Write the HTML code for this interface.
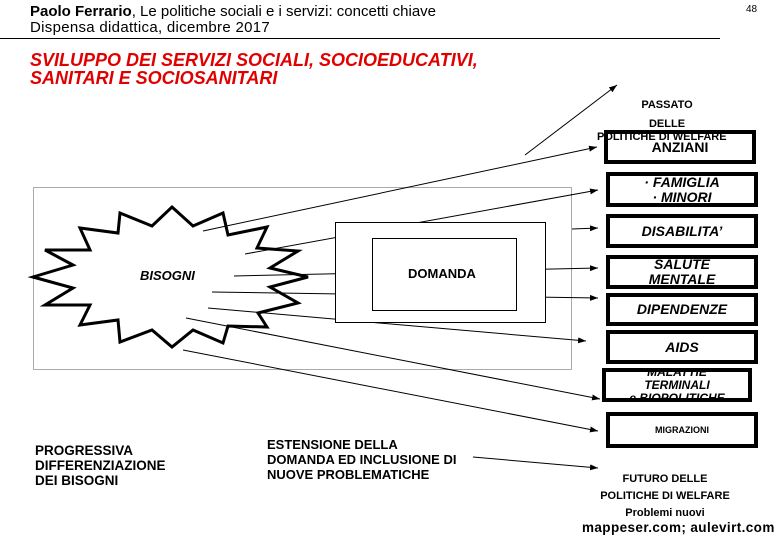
<!DOCTYPE html>
<html><head><meta charset="utf-8"><style>
body{margin:0;width:780px;height:540px;background:#fff;position:relative;overflow:hidden;font-family:"Liberation Sans",sans-serif}
.t{position:absolute;white-space:nowrap}
.b{font-weight:bold}
.box{position:absolute;border:4px solid #000;box-sizing:border-box;background:#fff;display:flex;flex-direction:column;align-items:center;justify-content:center;font-weight:bold;font-style:italic;font-size:14px;line-height:15px;text-align:center;overflow:hidden}
</style></head><body>
<div class="t" style="left:30px;top:3px;font-size:15px"><b>Paolo Ferrario</b>, Le politiche sociali e i servizi: concetti chiave</div>
<div class="t" style="left:30px;top:19px;font-size:15px;letter-spacing:0.3px">Dispensa didattica, dicembre 2017</div>
<div class="t" style="left:746px;top:4px;font-size:10px">48</div>
<div style="position:absolute;left:0;top:38px;width:720px;height:1px;background:#000"></div>
<div class="t b" style="left:30px;top:51px;font-size:18px;font-style:italic;color:#e00000;line-height:18px">SVILUPPO DEI SERVIZI SOCIALI, SOCIOEDUCATIVI,<br>SANITARI E SOCIOSANITARI</div>
<svg style="position:absolute;left:0;top:0" width="780" height="540">
<defs><marker id="a" markerWidth="8" markerHeight="6" refX="8" refY="3" orient="auto"><path d="M0,0L8,3L0,6z"/></marker></defs>
<rect x="33.5" y="187.5" width="538" height="182" fill="none" stroke="#555" stroke-dasharray="1,1"/>
<polygon fill="#fff" stroke="#000" stroke-width="3" points="172,207 193,226 223,213 228,235 267,227 257,248 298,251 270,268 308,277 270,287 298,303 258,313 267,327 228,326 223,343 193,330 172,347 152,330 120,342 118,320 80,325 90,305 45,305 73,288 33,277 73,265 45,250 90,250 80,228 118,233 120,213 152,226"/>
<g stroke="#000" stroke-width="1" marker-end="url(#a)">
<line x1="525" y1="155" x2="617" y2="85"/>
<line x1="203" y1="231" x2="597" y2="147"/>
<line x1="245" y1="254" x2="598" y2="190"/>
<line x1="572" y1="229" x2="598" y2="228"/>
<line x1="234" y1="276" x2="598" y2="268"/>
<line x1="212" y1="292" x2="598" y2="298"/>
<line x1="208" y1="308" x2="586" y2="341"/>
<line x1="186" y1="318" x2="600" y2="399"/>
<line x1="183" y1="350" x2="598" y2="431"/>
<line x1="473" y1="457" x2="598" y2="468"/>
</g>
<rect x="335.5" y="222.5" width="210" height="100" fill="#fff" stroke="#000"/>
<rect x="372.5" y="238.5" width="144" height="72" fill="#fff" stroke="#000"/>
</svg>
<div class="t b" style="left:140px;top:268px;font-size:13px;font-style:italic">BISOGNI</div>
<div class="t b" style="left:408px;top:266px;font-size:13px">DOMANDA</div>
<div class="box" style="left:604px;top:130px;width:152px;height:34px;font-style:normal">ANZIANI</div>
<div class="t b" style="left:637px;top:96px;font-size:11px;line-height:19px;text-align:center;width:60px">PASSATO<br>DELLE</div>
<div class="t b" style="left:597px;top:131px;font-size:11px">POLITICHE DI WELFARE</div>
<div class="box" style="left:606px;top:172px;width:152px;height:35px">· FAMIGLIA<br>· MINORI</div>
<div class="box" style="left:606px;top:214px;width:152px;height:34px">DISABILITA’</div>
<div class="box" style="left:606px;top:255px;width:152px;height:34px">SALUTE<br>MENTALE</div>
<div class="box" style="left:606px;top:293px;width:152px;height:33px">DIPENDENZE</div>
<div class="box" style="left:606px;top:330px;width:152px;height:34px">AIDS</div>
<div class="box" style="left:602px;top:368px;width:150px;height:34px;font-size:12px;line-height:13px">MALATTIE<br>TERMINALI<br>e BIOPOLITICHE</div>
<div class="box" style="left:606px;top:412px;width:152px;height:36px;font-style:normal;font-size:9px">MIGRAZIONI</div>
<div class="t b" style="left:35px;top:443px;font-size:13.5px;line-height:15px">PROGRESSIVA<br>DIFFERENZIAZIONE<br>DEI BISOGNI</div>
<div class="t b" style="left:267px;top:437px;font-size:13px;line-height:15px">ESTENSIONE DELLA<br>DOMANDA ED INCLUSIONE DI<br>NUOVE PROBLEMATICHE</div>
<div class="t b" style="left:590px;top:471px;width:150px;text-align:center;font-size:11px;line-height:17px">FUTURO DELLE<br>POLITICHE DI WELFARE<br>Problemi nuovi</div>
<div class="t b" style="left:582px;top:520px;font-size:13.5px;letter-spacing:0.4px">mappeser.com; aulevirt.com</div>
</body></html>
